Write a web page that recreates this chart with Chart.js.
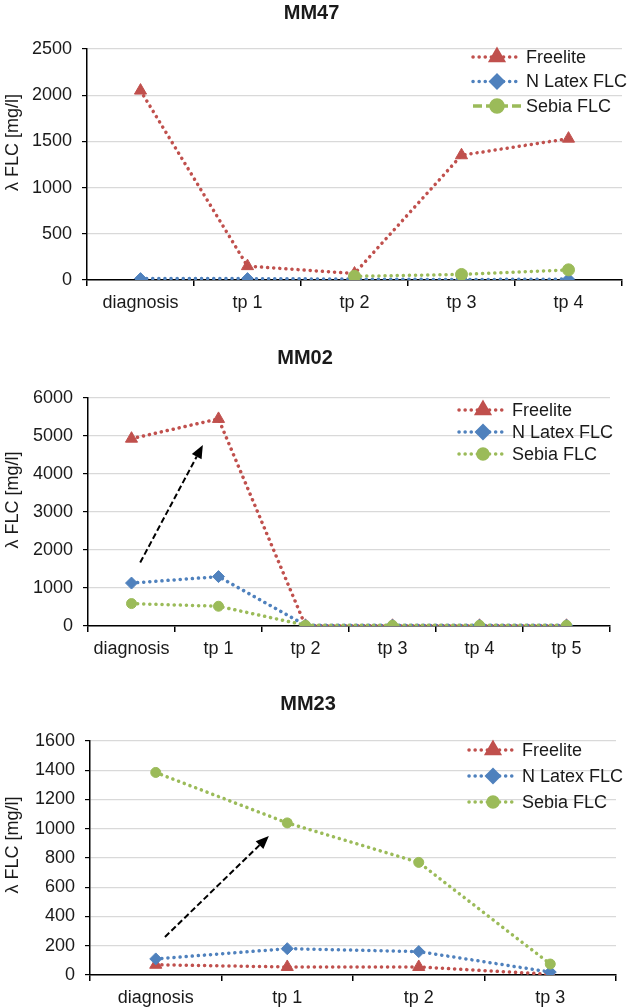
<!DOCTYPE html>
<html>
<head>
<meta charset="utf-8">
<script src="https://cdn.jsdelivr.net/npm/chart.js@4/dist/chart.umd.min.js"></script>
<style>
  html, body { margin: 0; padding: 0; background: #fff; }
  body { position: relative; width: 630px; height: 1007px; overflow: hidden; }
  canvas { position: absolute; left: 0; }
</style>
</head>
<body>
<canvas id="mm47" width="630" height="312" style="top:0px"></canvas>
<canvas id="mm02" width="630" height="338" style="top:320px"></canvas>
<canvas id="mm23" width="630" height="347" style="top:660px"></canvas>
<script>
const mm47Labels = ["diagnosis", "tp 1", "tp 2", "tp 3", "tp 4"];
const mm47Freelite = [2050, 150, 70, 1350, 1530];
const mm47NLatex = [15, 15, 10, 5, 10];
const mm47Sebia = [null, null, 40, 60, 110];
const mm47Ticks = [0, 500, 1000, 1500, 2000, 2500];

const mm02Labels = ["diagnosis", "tp 1", "tp 2", "tp 3", "tp 4", "tp 5"];
const mm02Freelite = [4930, 5450, 5, 5, 5, 5];
const mm02NLatex = [1130, 1300, 20, 20, 20, 20];
const mm02Sebia = [590, 520, 20, 20, 20, 20];
const mm02Ticks = [0, 1000, 2000, 3000, 4000, 5000, 6000];
const mm02Arrow = [0.1, 1670, 0.82, 4760];

const mm23Labels = ["diagnosis", "tp 1", "tp 2", "tp 3"];
const mm23Freelite = [70, 55, 55, 5];
const mm23NLatex = [110, 180, 160, 20];
const mm23Sebia = [1385, 1040, 770, 75];
const mm23Ticks = [0, 200, 400, 600, 800, 1000, 1200, 1400, 1600];
const mm23Arrow = [0.07, 260, 0.86, 950];

const seriesNames = ["Freelite", "N Latex FLC", "Sebia FLC"];
const RED = "#c0504d";
const BLUE = "#4f81bd";
const GREEN = "#9bbb59";
const FONT = '"Liberation Sans", Arial, sans-serif';
const TEXT = "#1a1a1a";
const DOTS = [0.1, 6];

function dataset(label, data, color, style, radius, order) {
  return {
    label,
    data,
    borderColor: color,
    backgroundColor: color,
    borderWidth: 3.5,
    borderDash: DOTS,
    borderCapStyle: "round",
    pointStyle: style,
    pointRadius: radius,
    pointBackgroundColor: color,
    pointBorderColor: color,
    pointBorderWidth: 1,
    order,
  };
}

function drawMarker(ctx, style, radius, color, x, y) {
  ctx.fillStyle = color;
  ctx.strokeStyle = color;
  Chart.helpers.drawPoint(ctx, { pointStyle: style, rotation: 0, radius, borderWidth: 1 }, x, y);
}

const figureExtras = {
  id: "figureExtras",
  afterDraw(chart, args, opts) {
    const { ctx, chartArea, scales } = chart;

    // rotated y axis title
    ctx.save();
    ctx.fillStyle = TEXT;
    ctx.font = `18px ${FONT}`;
    ctx.translate(opts.titleX, (chartArea.top + chartArea.bottom) / 2 + opts.titleShift);
    ctx.rotate(-Math.PI / 2);
    ctx.textAlign = "center";
    ctx.textBaseline = "middle";
    ctx.fillText("λ FLC [mg/l]", 0, 0);
    ctx.restore();

    // dashed annotation arrow
    if (opts.arrow) {
      const a = opts.arrow;
      const x1 = scales.x.getPixelForValue(a[0]);
      const y1 = scales.y.getPixelForValue(a[1]);
      const x2 = scales.x.getPixelForValue(a[2]);
      const y2 = scales.y.getPixelForValue(a[3]);
      const ang = Math.atan2(y2 - y1, x2 - x1);
      const head = 13;
      ctx.save();
      ctx.strokeStyle = "#000";
      ctx.fillStyle = "#000";
      ctx.lineWidth = 2;
      ctx.setLineDash([6, 3]);
      ctx.beginPath();
      ctx.moveTo(x1, y1);
      ctx.lineTo(x2 - head * Math.cos(ang), y2 - head * Math.sin(ang));
      ctx.stroke();
      ctx.setLineDash([]);
      ctx.beginPath();
      ctx.moveTo(x2, y2);
      ctx.lineTo(x2 - head * Math.cos(ang) + 5.5 * Math.sin(ang), y2 - head * Math.sin(ang) - 5.5 * Math.cos(ang));
      ctx.lineTo(x2 - head * Math.cos(ang) - 5.5 * Math.sin(ang), y2 - head * Math.sin(ang) + 5.5 * Math.cos(ang));
      ctx.closePath();
      ctx.fill();
      ctx.restore();
    }

    // legend with line + marker samples
    const left = chartArea.right - opts.legendLeft;
    chart.data.datasets.forEach((ds, i) => {
      const y = chartArea.top + opts.legendTop + i * opts.legendGap;
      ctx.save();
      ctx.strokeStyle = ds.borderColor;
      ctx.lineWidth = ds.borderWidth;
      ctx.lineCap = "round";
      ctx.setLineDash(ds.legendDash || DOTS);
      if (ds.legendDash) ctx.lineCap = "butt";
      ctx.beginPath();
      ctx.moveTo(left, y);
      ctx.lineTo(left + 48, y);
      ctx.stroke();
      ctx.setLineDash([]);
      drawMarker(ctx, ds.pointStyle, ds.pointRadius, ds.borderColor, left + 24, y);
      ctx.fillStyle = TEXT;
      ctx.font = `18px ${FONT}`;
      ctx.textAlign = "left";
      ctx.textBaseline = "middle";
      ctx.fillText(ds.label, left + 53, y + 1);
      ctx.restore();
    });
  },
};

function makeChart(id, title, labels, series, ticks, box) {
  const [freelite, nlatex, sebia] = series;
  const sebiaSet = dataset(seriesNames[2], sebia, GREEN, "circle", box.circle || 5, 1);
  if (box.sebiaLegendDash) sebiaSet.legendDash = [9, 4];

  return new Chart(document.getElementById(id), {
    type: "line",
    data: {
      labels,
      datasets: [
        dataset(seriesNames[0], freelite, RED, "triangle", 7, 3),
        dataset(seriesNames[1], nlatex, BLUE, "rectRot", 6, 2),
        sebiaSet,
      ],
    },
    options: {
      responsive: false,
      animation: false,
      events: [],
      layout: {
        padding: { top: box.top, right: box.right, bottom: 0, left: 0 },
      },
      plugins: {
        legend: { display: false },
        tooltip: { enabled: false },
        title: {
          display: true,
          text: title,
          color: TEXT,
          font: { family: FONT, size: 20, weight: "bold", lineHeight: 1 },
          padding: { top: 0, bottom: box.titleGap },
        },
        figureExtras: {
          titleX: 13,
          titleShift: box.titleShift,
          arrow: box.arrow,
          legendLeft: box.legendLeft,
          legendTop: box.legendTop,
          legendGap: box.legendGap,
        },
      },
      scales: {
        x: {
          offset: true,
          afterFit(scale) { scale.height = 32; },
          border: { color: "#000", width: 1.5 },
          grid: {
            offset: true,
            drawOnChartArea: false,
            drawTicks: true,
            tickLength: 6,
            color: "#000",
            lineWidth: 1.5,
          },
          ticks: {
            color: TEXT,
            padding: 6,
            maxRotation: 0,
            font: { family: FONT, size: 18 },
          },
        },
        y: {
          min: ticks[0],
          max: ticks[ticks.length - 1],
          afterFit(scale) { scale.width = box.left; },
          border: { color: "#000", width: 1.5 },
          grid: {
            color: "#d9d9d9",
            lineWidth: 1.2,
            tickLength: 5,
            tickColor: "#000",
          },
          ticks: {
            stepSize: ticks[1] - ticks[0],
            color: TEXT,
            padding: 10,
            font: { family: FONT, size: 18 },
            callback(value) {
              return String(value);
            },
          },
        },
      },
    },
    plugins: [figureExtras],
  });
}

makeChart("mm47", "MM47", mm47Labels, [mm47Freelite, mm47NLatex, mm47Sebia], mm47Ticks, {
  top: 3, titleGap: 26, left: 87, right: 7, titleShift: -22,
  legendLeft: 149, legendTop: 8, legendGap: 24.5, circle: 6, sebiaLegendDash: true,
});

makeChart("mm02", "MM02", mm02Labels, [mm02Freelite, mm02NLatex, mm02Sebia], mm02Ticks, {
  top: 28, titleGap: 30, left: 88, right: 20, titleShift: -12, arrow: mm02Arrow,
  legendLeft: 151, legendTop: 12, legendGap: 22,
});

makeChart("mm23", "MM23", mm23Labels, [mm23Freelite, mm23NLatex, mm23Sebia], mm23Ticks, {
  top: 34, titleGap: 27, left: 90, right: 14, titleShift: -13, arrow: mm23Arrow,
  legendLeft: 147, legendTop: 9, legendGap: 26,
});
</script>
</body>
</html>
